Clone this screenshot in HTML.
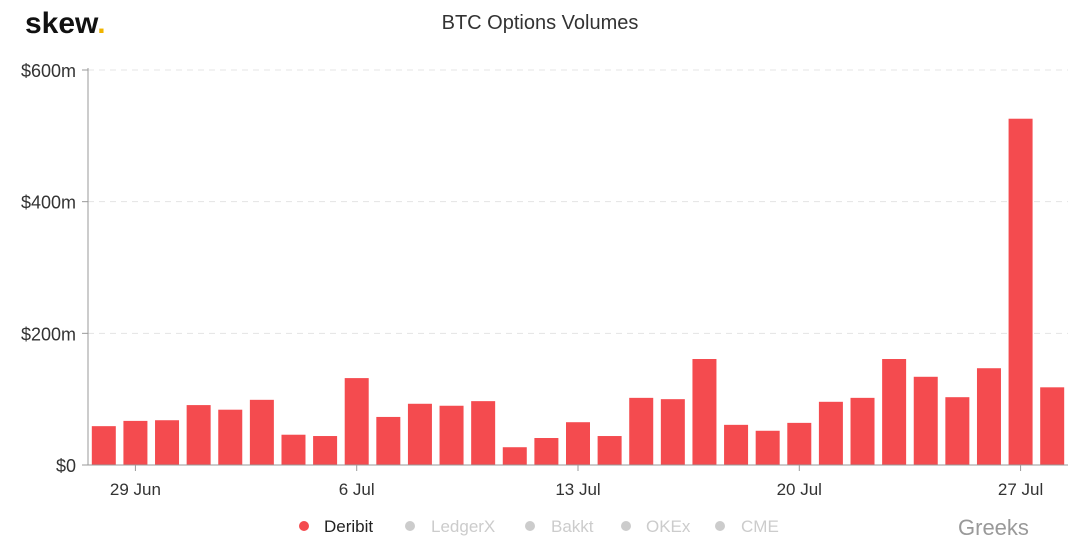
<!DOCTYPE html>
<html><head><meta charset="utf-8"><style>
body{margin:0;background:#fff;width:1080px;height:543px;overflow:hidden;font-family:"Liberation Sans",sans-serif}
svg{display:block}
</style></head><body>
<svg id="chart" width="1080" height="543">
<text x="25" y="33" font-size="30" font-weight="bold" fill="#111">skew<tspan fill="#f0b400">.</tspan></text>
<text x="540" y="29" font-size="20" text-anchor="middle" fill="#333">BTC Options Volumes</text>
<g id="grid"></g><g id="bars"></g><g id="axes"></g>
<g font-size="17">
<g><circle cx="304" cy="526" r="5" fill="#f44b4f"/><text x="324" y="532" fill="#222">Deribit</text></g>
<g><circle cx="410" cy="526" r="5" fill="#ccc"/><text x="431" y="532" fill="#ccc">LedgerX</text></g>
<g><circle cx="530" cy="526" r="5" fill="#ccc"/><text x="551" y="532" fill="#ccc">Bakkt</text></g>
<g><circle cx="626" cy="526" r="5" fill="#ccc"/><text x="646" y="532" fill="#ccc">OKEx</text></g>
<g><circle cx="720" cy="526" r="5" fill="#ccc"/><text x="741" y="532" fill="#ccc">CME</text></g>
</g>
<text x="958" y="535" font-size="22" fill="#999">Greeks</text>
</svg>
<script>
const categories=["28 Jun","29 Jun","30 Jun","1 Jul","2 Jul","3 Jul","4 Jul","5 Jul","6 Jul","7 Jul","8 Jul","9 Jul","10 Jul","11 Jul","12 Jul","13 Jul","14 Jul","15 Jul","16 Jul","17 Jul","18 Jul","19 Jul","20 Jul","21 Jul","22 Jul","23 Jul","24 Jul","25 Jul","26 Jul","27 Jul","28 Jul"];
const deribit=[59,67,68,91,84,99,46,44,132,73,93,90,97,27,41,65,44,102,100,161,61,52,64,96,102,161,134,103,147,526,118];
const yTicks=[0,200,400,600];
const yTickLabels=["$0","$200m","$400m","$600m"];
const xTickLabels=["29 Jun","6 Jul","13 Jul","20 Jul","27 Jul"];
const NS="http://www.w3.org/2000/svg";
const x0=88,x1=1068,y0=465,y1=70;
const step=(x1-x0)/categories.length;
const xs=i=>x0+step*(i+0.5);
const ys=v=>y0-(v/600)*(y0-y1);
function mk(t,a,p){const e=document.createElementNS(NS,t);for(const k in a)e.setAttribute(k,a[k]);p.appendChild(e);return e;}
const grid=document.getElementById('grid'),bars=document.getElementById('bars'),axes=document.getElementById('axes');
yTicks.forEach((v,i)=>{
 if(v>0){const l=mk('line',{x1:x0,x2:x1,y1:ys(v),y2:ys(v),stroke:'#e4e4e4','stroke-dasharray':'6,5'},grid);
 
 }
 const t=mk('text',{x:76,y:ys(v)+7,'text-anchor':'end','font-size':18,fill:'#333'},axes);
 t.textContent=yTickLabels[i];
 
 
});
const bw=24;
deribit.forEach((v,i)=>{
 const r=mk('rect',{x:xs(i)-bw/2,y:ys(v),width:bw,height:y0-ys(v),fill:'#f44b4f'},bars);
 
 
});
const ya=mk('line',{x1:x0,x2:x0,y1:y1-2,y2:y0,stroke:'#999'},axes);


const xa=mk('line',{x1:x0,x2:x1,y1:y0,y2:y0,stroke:'#999'},axes);


yTicks.forEach(v=>{mk('line',{x1:x0-6,x2:x0,y1:ys(v),y2:ys(v),stroke:'#999'},axes);});
xTickLabels.forEach(lbl=>{
 const i=categories.indexOf(lbl);
 mk('line',{x1:xs(i),x2:xs(i),y1:y0,y2:y0+6,stroke:'#999'},axes);
 const t=mk('text',{x:xs(i),y:y0+30,'text-anchor':'middle','font-size':17,fill:'#333'},axes);
 t.textContent=lbl;
 
 
});
</script>
</body></html>
